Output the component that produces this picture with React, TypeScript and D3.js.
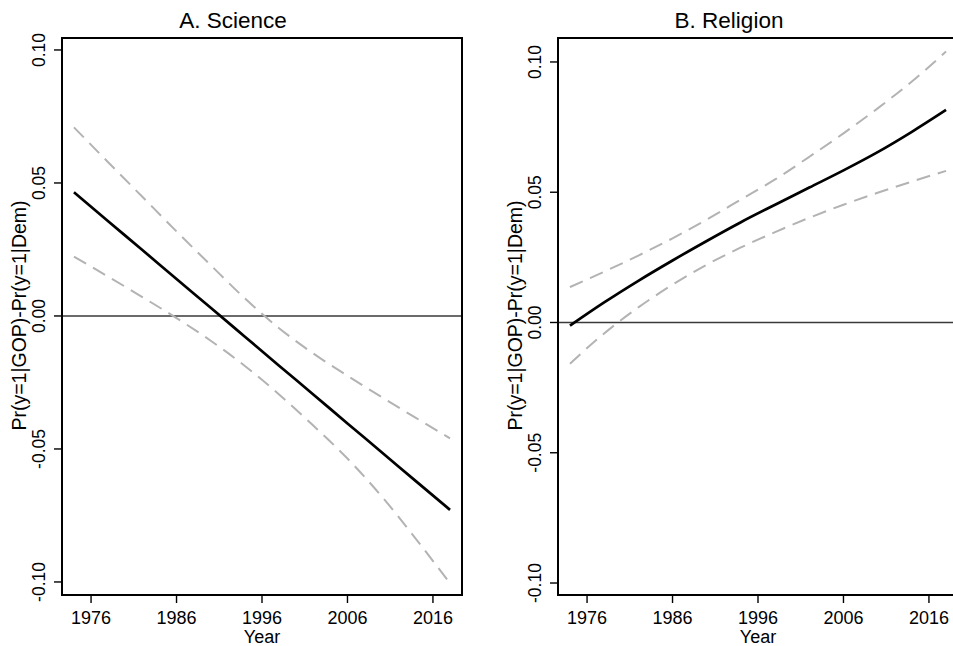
import React from "react";
import * as d3 from "d3";

const years = [1974, 1978, 1982, 1986, 1990, 1994, 1998, 2002, 2006, 2010, 2014, 2018];

const sciMean = [0.0465, 0.0356, 0.0248, 0.0139, 0.0031, -0.0078, -0.0187, -0.0295, -0.0404, -0.0512, -0.0621, -0.0729];
const sciUpper = [0.0709, 0.0578, 0.0448, 0.0318, 0.0191, 0.0066, -0.0046, -0.0141, -0.0225, -0.0305, -0.0383, -0.046];
const sciLower = [0.0223, 0.0148, 0.0071, -0.0008, -0.0093, -0.0188, -0.0295, -0.0412, -0.0536, -0.0678, -0.0838, -0.1005];

const relMean = [-0.0012, 0.0077, 0.016, 0.0238, 0.0313, 0.0385, 0.0452, 0.0518, 0.0584, 0.0654, 0.0732, 0.0816];
const relUpper = [0.0136, 0.0195, 0.0257, 0.0323, 0.0395, 0.0472, 0.0549, 0.0636, 0.0726, 0.0822, 0.0925, 0.104];
const relLower = [-0.0158, -0.0042, 0.0058, 0.0145, 0.0222, 0.0288, 0.0347, 0.0402, 0.0452, 0.0498, 0.0541, 0.0582];

const xTicks = [1976, 1986, 1996, 2006, 2016];
const yTicks = [-0.1, -0.05, 0, 0.05, 0.1];
const yTickLabels = ["-0.10", "-0.05", "0.00", "0.05", "0.10"];
const titles = ["A. Science", "B. Religion"];
const yLabel = "Pr(y=1|GOP)-Pr(y=1|Dem)";
const xLabel = "Year";

const FONT = "Liberation Sans, Arial, Helvetica, sans-serif";

type PanelProps = {
  left: number;
  title: string;
  mean: number[];
  upper: number[];
  lower: number[];
  yDomain: [number, number];
  top: number;
  bottom: number;
};

function Panel({ left, title, mean, upper, lower, yDomain, top, bottom }: PanelProps) {
  const width = 400;
  const x = d3.scaleLinear().domain([1972.6, 2019.4]).range([left, left + width]);
  const y = d3.scaleLinear().domain(yDomain).range([bottom, top]);
  const line = d3
    .line<[number, number]>()
    .x((d) => x(d[0]))
    .y((d) => y(d[1]))
    .curve(d3.curveMonotoneX);
  const pts = (arr: number[]) => years.map((yr, i) => [yr, arr[i]] as [number, number]);
  const cx = left + width / 2;
  return (
    <g>
      <text x={cx - 29} y={28} textAnchor="middle" fontSize={22.5} fontFamily={FONT}>
        {title}
      </text>
      <line x1={x.range()[0]} x2={x.range()[1]} y1={y(0)} y2={y(0)} stroke="#3a3a3a" strokeWidth={1.6} />
      <path d={line(pts(upper)) || ""} fill="none" stroke="#b3b3b3" strokeWidth={2} strokeDasharray="14,8" />
      <path d={line(pts(lower)) || ""} fill="none" stroke="#b3b3b3" strokeWidth={2} strokeDasharray="14,8" />
      <path d={line(pts(mean)) || ""} fill="none" stroke="#000" strokeWidth={2.7} />
      <rect x={left} y={top} width={width} height={bottom - top} fill="none" stroke="#000" strokeWidth={2} />
      {yTicks.map((t, i) => (
        <g key={t}>
          <line x1={left - 8} x2={left} y1={y(t)} y2={y(t)} stroke="#000" strokeWidth={1.4} />
          <text
            transform={`translate(${left - 17},${y(t)}) rotate(-90)`}
            textAnchor="middle"
            fontSize={17.5}
            fontFamily={FONT}
          >
            {yTickLabels[i]}
          </text>
        </g>
      ))}
      {xTicks.map((t) => (
        <g key={t}>
          <line x1={x(t)} x2={x(t)} y1={bottom} y2={bottom + 8} stroke="#000" strokeWidth={1.4} />
          <text x={x(t)} y={624} textAnchor="middle" fontSize={18} fontFamily={FONT}>
            {t}
          </text>
        </g>
      ))}
      <text x={cx} y={643} textAnchor="middle" fontSize={18} fontFamily={FONT}>
        {xLabel}
      </text>
      <text
        transform={`translate(${left - 36},${(top + bottom) / 2 - 1}) rotate(-90)`}
        textAnchor="middle"
        fontSize={19.5}
        fontFamily={FONT}
      >
        {yLabel}
      </text>
    </g>
  );
}

export default function App() {
  return (
    <svg
      width={953}
      height={646}
      style={{ position: "absolute", left: 0, top: 0, background: "#fff" }}
    >
      <rect x={0} y={0} width={953} height={646} fill="#fff" />
      <Panel left={62} title={titles[0]} mean={sciMean} upper={sciUpper} lower={sciLower} yDomain={[-0.1049, 0.1045]} top={38} bottom={595} />
      <Panel left={558} title={titles[1]} mean={relMean} upper={relUpper} lower={relLower} yDomain={[-0.1046, 0.1092]} top={38} bottom={595} />
    </svg>
  );
}
